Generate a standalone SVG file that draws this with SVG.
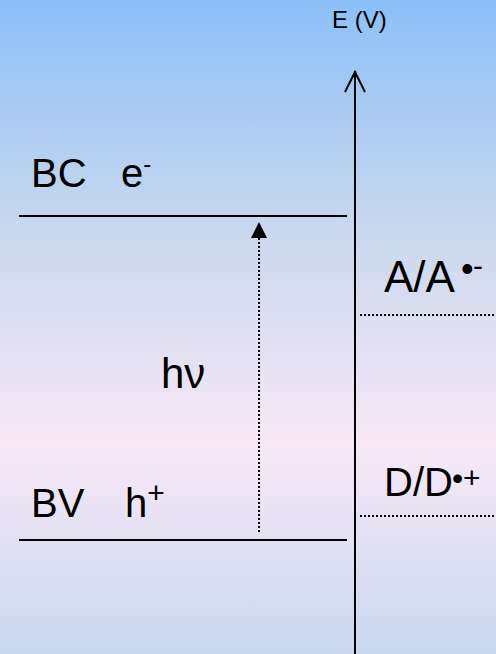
<svg xmlns="http://www.w3.org/2000/svg" width="496" height="654" viewBox="0 0 496 654">
<defs>
<linearGradient id="bg" x1="0" y1="0" x2="0" y2="1">
<stop offset="0" stop-color="#8CC0F8"/>
<stop offset="0.35" stop-color="#C8D8EE"/>
<stop offset="0.68" stop-color="#F8E8F6"/>
<stop offset="1" stop-color="#C8D8F0"/>
</linearGradient>
</defs>
<style>
text{font-family:"Liberation Sans",Arial,sans-serif;fill:#000}
.big{font-size:40px}
.lvl{stroke:#000;stroke-width:2}
.dot{stroke:#000;stroke-width:2;stroke-dasharray:2 2}
</style>
<rect width="496" height="654" fill="url(#bg)"/>
<g id="axis">
<line x1="355" y1="71" x2="355" y2="654" stroke="#000" stroke-width="2"/>
<polyline points="345,92 355,72 365,92" fill="none" stroke="#000" stroke-width="2"/>
<text x="332" y="28" font-size="24">E (V)</text>
</g>
<g id="connectors">
<line class="dot" x1="259" y1="532" x2="259" y2="236"/>
<path d="M251,238 L259,222 L267,238 Z" fill="#000"/>
</g>
<g id="bc">
<line class="lvl" x1="19" y1="216" x2="347" y2="216"/>
<text class="big" x="31" y="187">BC</text>
<text class="big" x="121" y="187">e<tspan font-size="24" dy="-15">-</tspan></text>
</g>
<g id="bv">
<line class="lvl" x1="19" y1="540" x2="347" y2="540"/>
<text class="big" x="31" y="517">BV</text>
<text class="big" x="125" y="517">h<tspan font-size="30" dy="-14">+</tspan></text>
</g>
<g id="hv">
<text x="161" y="388" font-size="42" font-family="'Liberation Serif','Times New Roman',serif">hν</text>
</g>
<g id="aa">
<line class="dot" x1="360" y1="315" x2="496" y2="315"/>
<text x="384" y="292" font-size="44">A/A<tspan x="461" y="281" font-size="36">•</tspan><tspan x="473" y="276" font-size="30">-</tspan></text>
</g>
<g id="dd">
<line class="dot" x1="360" y1="516" x2="496" y2="516"/>
<text x="384" y="496" font-size="40">D/D<tspan x="452" y="489" font-size="32">•</tspan><tspan x="463" y="488" font-size="30">+</tspan></text>
</g>
</svg>
